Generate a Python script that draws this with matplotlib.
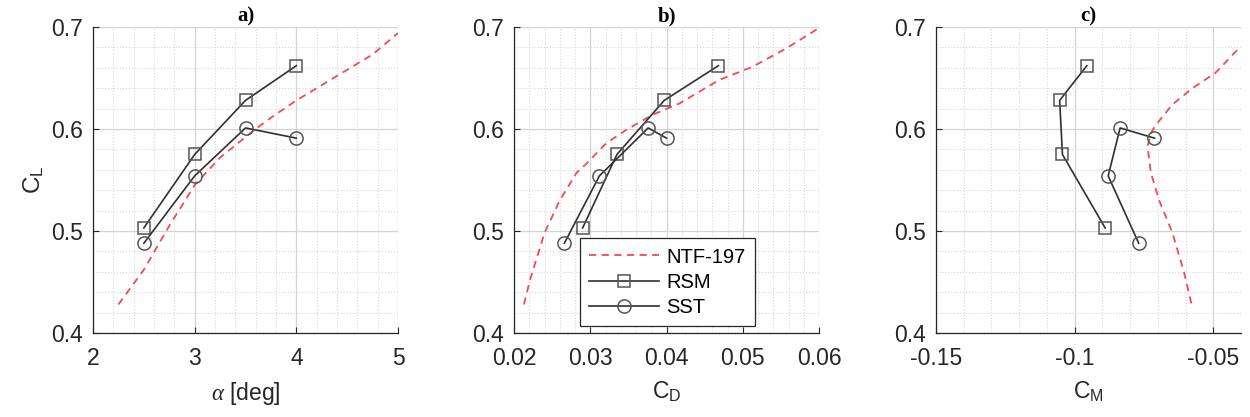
import numpy as np
import matplotlib
matplotlib.use('Agg')
import matplotlib.pyplot as plt
from matplotlib.ticker import MultipleLocator

plt.rcParams['font.family'] = ['Liberation Sans', 'DejaVu Sans']
plt.rcParams['mathtext.fontset'] = 'custom'
plt.rcParams['mathtext.rm'] = 'Liberation Sans'
plt.rcParams['mathtext.it'] = 'Liberation Serif:italic'
plt.rcParams['mathtext.default'] = 'it'

# panel a: C_L vs alpha
ntf_alpha = [2.25, 2.5, 2.75, 3.0, 3.25, 3.5, 3.6, 3.75, 4.0, 4.25, 4.5, 4.75, 5.0]
ntf_cl_a = [0.428, 0.462, 0.505, 0.545, 0.572, 0.592, 0.600, 0.611, 0.628, 0.643, 0.658, 0.673, 0.694]
rsm_alpha = [2.5, 3.0, 3.5, 4.0]
rsm_cl = [0.503, 0.575, 0.628, 0.662]
sst_alpha = [2.5, 3.0, 3.5, 4.0]
sst_cl = [0.488, 0.554, 0.601, 0.591]

# panel b: C_L vs C_D
ntf_cd = [0.0213, 0.0221, 0.0240, 0.0260, 0.0282, 0.0295, 0.0321, 0.0347, 0.0382, 0.0417, 0.0469, 0.0513, 0.0557, 0.0598]
ntf_cl_b = [0.428, 0.452, 0.498, 0.530, 0.557, 0.566, 0.586, 0.599, 0.614, 0.625, 0.648, 0.661, 0.679, 0.698]
rsm_cd = [0.0290, 0.0335, 0.0397, 0.0468]
sst_cd = [0.0266, 0.0312, 0.0376, 0.0400]

# panel c: C_L vs C_M
ntf_cm = [-0.0579, -0.0605, -0.0647, -0.0695, -0.0725, -0.0737, -0.0725, -0.0707, -0.0647, -0.0575, -0.0492, -0.0408]
ntf_cl_c = [0.429, 0.459, 0.498, 0.530, 0.557, 0.583, 0.596, 0.604, 0.624, 0.640, 0.655, 0.679]
rsm_cm = [-0.0890, -0.1044, -0.1054, -0.0956]
sst_cm = [-0.0769, -0.0879, -0.0836, -0.0712]

red = '#f24a52'
dark = '#303030'
mk_edge = '#555555'
fs = 16.5

fig = plt.figure(figsize=(12.5, 4.17), dpi=100)
lefts = [0.0744, 0.4112, 0.7488]
axs = [fig.add_axes([l, 0.2014, 0.244, 0.734]) for l in lefts]

panels = [
    (ntf_alpha, ntf_cl_a, rsm_alpha, sst_alpha, (2, 5), 0.2, [2, 3, 4, 5], r'$\alpha$ [deg]', 'a)'),
    (ntf_cd, ntf_cl_b, rsm_cd, sst_cd, (0.02, 0.06), 0.002, [0.02, 0.03, 0.04, 0.05, 0.06], r'C$_\mathrm{D}$', 'b)'),
    (ntf_cm, ntf_cl_c, rsm_cm, sst_cm, (-0.15, -0.04), 0.01, [-0.15, -0.1, -0.05], r'C$_\mathrm{M}$', 'c)'),
]

for ax, (nx, ny, rx, sx, xl, mnr, ticks, xlabel, title) in zip(axs, panels):
    ax.plot(nx, ny, '--', color=red, lw=1.3, dashes=(4, 3), label='NTF-197')
    ax.plot(rx, rsm_cl, '-', color=dark, lw=1.2, marker='s', ms=9, mfc='none', mec=mk_edge, mew=1.1, label='RSM')
    ax.plot(sx, sst_cl, '-', color=dark, lw=1.2, marker='o', ms=9.5, mfc='none', mec=mk_edge, mew=1.1, label='SST')
    ax.set_xlim(*xl)
    ax.set_ylim(0.4, 0.7)
    ax.set_xticks(ticks)
    ax.set_xticklabels([('%g' % t) for t in ticks])
    ax.set_yticks([0.4, 0.5, 0.6, 0.7])
    ax.xaxis.set_minor_locator(MultipleLocator(mnr))
    ax.yaxis.set_minor_locator(MultipleLocator(0.02))
    ax.grid(which='major', color='#d4d4d4', lw=0.9)
    ax.grid(which='minor', color='#d8d8d8', lw=0.8, ls=':')
    ax.set_axisbelow(True)
    for s in ['top', 'right']:
        ax.spines[s].set_visible(False)
    for s in ['left', 'bottom']:
        ax.spines[s].set_color('#262626')
        ax.spines[s].set_linewidth(0.9)
    ax.tick_params(which='major', direction='in', length=4, labelsize=fs, colors='#262626', pad=7)
    ax.tick_params(axis='x', which='major', pad=10)
    ax.tick_params(which='minor', length=0)
    ax.set_xlabel(xlabel, fontsize=fs, color='#262626', labelpad=7)
    ax.set_title(title, fontsize=15, fontweight='bold', family='Liberation Serif', pad=4)

axs[0].set_ylabel(r'C$_\mathrm{L}$', fontsize=fs + 1, color='#262626', labelpad=4)

leg = axs[1].legend(loc='lower left', bbox_to_anchor=(0.216, 0.024), borderaxespad=0, fontsize=14.5,
                    fancybox=False, framealpha=1, edgecolor='#262626',
                    handlelength=3.5, handletextpad=0.35, borderpad=0.45, labelspacing=0.3)
leg.get_frame().set_linewidth(0.9)

fig.savefig('out.png', dpi=100)
